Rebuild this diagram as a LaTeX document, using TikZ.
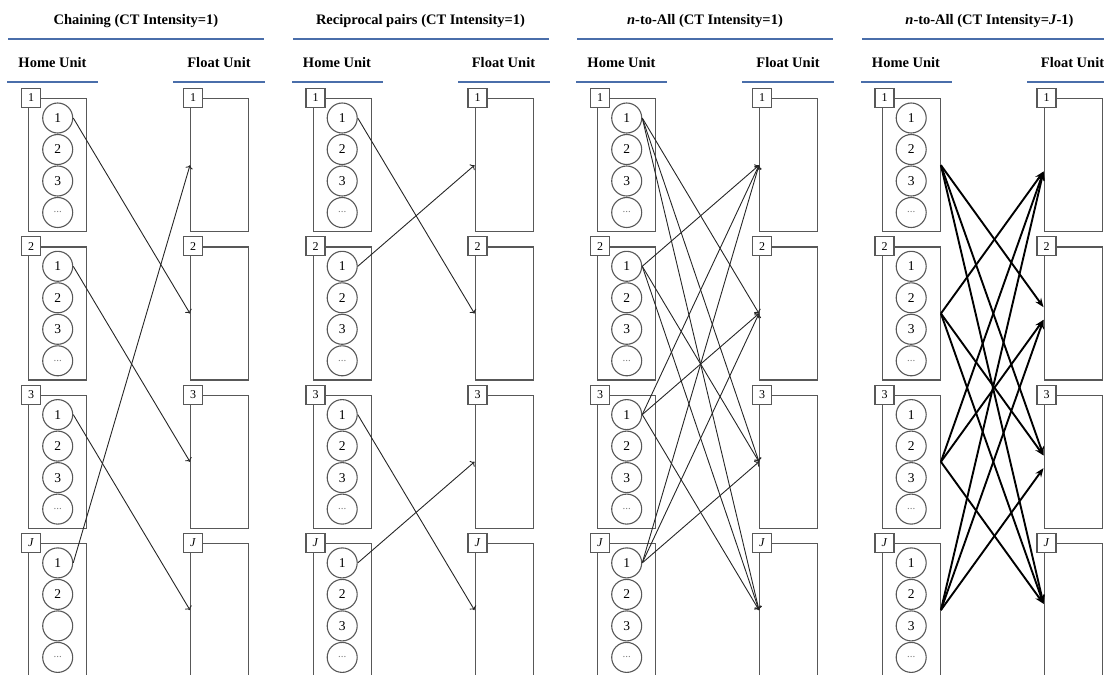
\documentclass[tikz,border=0pt]{standalone}
\usepackage{fontspec}
\setmainfont{Liberation Serif}
\usetikzlibrary{positioning}
\usetikzlibrary{arrows.meta}
\definecolor{rulebl}{RGB}{74,110,170}
\definecolor{boxgr}{RGB}{88,88,88}
\tikzstyle{title} = [font=\bfseries\fontsize{14.5}{17}\selectfont, align=center]
\tikzstyle{rule} = [fill=rulebl, minimum height=2.8pt, inner sep=0pt]
\tikzstyle{unit} = [draw=boxgr, line width=1.4pt, minimum width=58pt, minimum height=133pt, anchor=north west, inner sep=0pt]
\tikzstyle{tag} = [draw=boxgr, fill=white, line width=1.2pt, minimum size=19pt, inner sep=0pt, font=\fontsize{12}{13}\selectfont]
\tikzstyle{worker} = [circle, draw=boxgr, line width=1.1pt, minimum size=30pt, inner sep=0pt, font=\fontsize{13.5}{14}\selectfont]
\tikzstyle{more} = [worker, text=gray, font=\fontsize{11}{12}\selectfont]
\tikzstyle{flow} = [->, line width=0.9pt, black!85]
\tikzstyle{bigflow} = [-{Stealth[length=9pt,width=7pt]}, line width=1.9pt]

\begin{document}
\begin{tikzpicture}
\useasboundingbox (0,0) rectangle (1104pt,-675pt);

% Chaining
\node (chainhome1) at (28pt,-98pt) [unit] {};
\node (chainhome2) at (chainhome1.north west) [yshift=-148.3pt] [unit] {};
\node (chainhome3) at (chainhome2.north west) [yshift=-148.3pt] [unit] {};
\node (chainhomeJ) at (chainhome3.north west) [yshift=-148.3pt] [unit] {};
\node (chaintitle) at (chainhome1.north west) [xshift=108pt, yshift=77pt] [title] {Chaining (CT Intensity=1)};
\node (chaintitlerule) at (chaintitle) [yshift=-18pt] [rule, minimum width=256pt] {};
\node (chainhomehead) at (chainhome1.north west) [xshift=24.5pt, yshift=35pt] [title] {Home Unit};
\node (chainhomerule) at (chainhomehead) [yshift=-19pt] [rule, minimum width=91pt] {};

\node (chainhome1tag) at (chainhome1.north west) [xshift=3pt] [tag] {1};
\node (chainhome1w1) at (chainhome1.north) [yshift=-20pt] [worker] {1};
\node (chainhome1w2) at (chainhome1w1) [yshift=-31.5pt] [worker] {2};
\node (chainhome1w3) at (chainhome1w2) [yshift=-31.5pt] [worker] {3};
\node (chainhome1w4) at (chainhome1w3) [yshift=-31.5pt] [more] {...};
\node (chainhome2tag) at (chainhome2.north west) [xshift=3pt] [tag] {2};
\node (chainhome2w1) at (chainhome2.north) [yshift=-20pt] [worker] {1};
\node (chainhome2w2) at (chainhome2w1) [yshift=-31.5pt] [worker] {2};
\node (chainhome2w3) at (chainhome2w2) [yshift=-31.5pt] [worker] {3};
\node (chainhome2w4) at (chainhome2w3) [yshift=-31.5pt] [more] {...};
\node (chainhome3tag) at (chainhome3.north west) [xshift=3pt] [tag] {3};
\node (chainhome3w1) at (chainhome3.north) [yshift=-20pt] [worker] {1};
\node (chainhome3w2) at (chainhome3w1) [yshift=-31.5pt] [worker] {2};
\node (chainhome3w3) at (chainhome3w2) [yshift=-31.5pt] [worker] {3};
\node (chainhome3w4) at (chainhome3w3) [yshift=-31.5pt] [more] {...};
\node (chainhomeJtag) at (chainhomeJ.north west) [xshift=3pt] [tag] {\textit{J}};
\node (chainhomeJw1) at (chainhomeJ.north) [yshift=-20pt] [worker] {1};
\node (chainhomeJw2) at (chainhomeJw1) [yshift=-31.5pt] [worker] {2};
\node (chainhomeJw3) at (chainhomeJw2) [yshift=-31.5pt] [worker] {};
\node (chainhomeJw4) at (chainhomeJw3) [yshift=-31.5pt] [more] {...};

\node (chainfloat1) at (chainhome1.north west) [xshift=162pt] [unit] {};
\node (chainfloat2) at (chainfloat1.north west) [yshift=-148.3pt] [unit] {};
\node (chainfloat3) at (chainfloat2.north west) [yshift=-148.3pt] [unit] {};
\node (chainfloatJ) at (chainfloat3.north west) [yshift=-148.3pt] [unit] {};
\node (chainfloathead) at (chainfloat1.north west) [xshift=29pt, yshift=35pt] [title] {Float Unit};
\node (chainfloatrule) at (chainfloathead) [yshift=-19pt] [rule, minimum width=92pt] {};
\node (chainfloat1tag) at (chainfloat1.north west) [xshift=3pt] [tag] {1};
\node (chainfloat2tag) at (chainfloat2.north west) [xshift=3pt] [tag] {2};
\node (chainfloat3tag) at (chainfloat3.north west) [xshift=3pt] [tag] {3};
\node (chainfloatJtag) at (chainfloatJ.north west) [xshift=3pt] [tag] {\textit{J}};

% Reciprocal pairs
\node (reciphome1) at (chainhome1.north west) [xshift=284.5pt] [unit] {};
\node (reciphome2) at (reciphome1.north west) [yshift=-148.3pt] [unit] {};
\node (reciphome3) at (reciphome2.north west) [yshift=-148.3pt] [unit] {};
\node (reciphomeJ) at (reciphome3.north west) [yshift=-148.3pt] [unit] {};
\node (reciptitle) at (reciphome1.north west) [xshift=108pt, yshift=77pt] [title] {Reciprocal pairs (CT Intensity=1)};
\node (reciptitlerule) at (reciptitle) [yshift=-18pt] [rule, minimum width=256pt] {};
\node (reciphomehead) at (reciphome1.north west) [xshift=24.5pt, yshift=35pt] [title] {Home Unit};
\node (reciphomerule) at (reciphomehead) [yshift=-19pt] [rule, minimum width=91pt] {};

\node (reciphome1tag) at (reciphome1.north west) [xshift=3pt] [tag] {1};
\node (reciphome1w1) at (reciphome1.north) [yshift=-20pt] [worker] {1};
\node (reciphome1w2) at (reciphome1w1) [yshift=-31.5pt] [worker] {2};
\node (reciphome1w3) at (reciphome1w2) [yshift=-31.5pt] [worker] {3};
\node (reciphome1w4) at (reciphome1w3) [yshift=-31.5pt] [more] {...};
\node (reciphome2tag) at (reciphome2.north west) [xshift=3pt] [tag] {2};
\node (reciphome2w1) at (reciphome2.north) [yshift=-20pt] [worker] {1};
\node (reciphome2w2) at (reciphome2w1) [yshift=-31.5pt] [worker] {2};
\node (reciphome2w3) at (reciphome2w2) [yshift=-31.5pt] [worker] {3};
\node (reciphome2w4) at (reciphome2w3) [yshift=-31.5pt] [more] {...};
\node (reciphome3tag) at (reciphome3.north west) [xshift=3pt] [tag] {3};
\node (reciphome3w1) at (reciphome3.north) [yshift=-20pt] [worker] {1};
\node (reciphome3w2) at (reciphome3w1) [yshift=-31.5pt] [worker] {2};
\node (reciphome3w3) at (reciphome3w2) [yshift=-31.5pt] [worker] {3};
\node (reciphome3w4) at (reciphome3w3) [yshift=-31.5pt] [more] {...};
\node (reciphomeJtag) at (reciphomeJ.north west) [xshift=3pt] [tag] {\textit{J}};
\node (reciphomeJw1) at (reciphomeJ.north) [yshift=-20pt] [worker] {1};
\node (reciphomeJw2) at (reciphomeJw1) [yshift=-31.5pt] [worker] {2};
\node (reciphomeJw3) at (reciphomeJw2) [yshift=-31.5pt] [worker] {3};
\node (reciphomeJw4) at (reciphomeJw3) [yshift=-31.5pt] [more] {...};

\node (recipfloat1) at (reciphome1.north west) [xshift=162pt] [unit] {};
\node (recipfloat2) at (recipfloat1.north west) [yshift=-148.3pt] [unit] {};
\node (recipfloat3) at (recipfloat2.north west) [yshift=-148.3pt] [unit] {};
\node (recipfloatJ) at (recipfloat3.north west) [yshift=-148.3pt] [unit] {};
\node (recipfloathead) at (recipfloat1.north west) [xshift=29pt, yshift=35pt] [title] {Float Unit};
\node (recipfloatrule) at (recipfloathead) [yshift=-19pt] [rule, minimum width=92pt] {};
\node (recipfloat1tag) at (recipfloat1.north west) [xshift=3pt] [tag] {1};
\node (recipfloat2tag) at (recipfloat2.north west) [xshift=3pt] [tag] {2};
\node (recipfloat3tag) at (recipfloat3.north west) [xshift=3pt] [tag] {3};
\node (recipfloatJtag) at (recipfloatJ.north west) [xshift=3pt] [tag] {\textit{J}};

% n-to-All, one worker per unit
\node (ntoallhome1) at (reciphome1.north west) [xshift=284.5pt] [unit] {};
\node (ntoallhome2) at (ntoallhome1.north west) [yshift=-148.3pt] [unit] {};
\node (ntoallhome3) at (ntoallhome2.north west) [yshift=-148.3pt] [unit] {};
\node (ntoallhomeJ) at (ntoallhome3.north west) [yshift=-148.3pt] [unit] {};
\node (ntoalltitle) at (ntoallhome1.north west) [xshift=108pt, yshift=77pt] [title] {\textit{n}-to-All (CT Intensity=1)};
\node (ntoalltitlerule) at (ntoalltitle) [yshift=-18pt] [rule, minimum width=256pt] {};
\node (ntoallhomehead) at (ntoallhome1.north west) [xshift=24.5pt, yshift=35pt] [title] {Home Unit};
\node (ntoallhomerule) at (ntoallhomehead) [yshift=-19pt] [rule, minimum width=91pt] {};

\node (ntoallhome1tag) at (ntoallhome1.north west) [xshift=3pt] [tag] {1};
\node (ntoallhome1w1) at (ntoallhome1.north) [yshift=-20pt] [worker] {1};
\node (ntoallhome1w2) at (ntoallhome1w1) [yshift=-31.5pt] [worker] {2};
\node (ntoallhome1w3) at (ntoallhome1w2) [yshift=-31.5pt] [worker] {3};
\node (ntoallhome1w4) at (ntoallhome1w3) [yshift=-31.5pt] [more] {...};
\node (ntoallhome2tag) at (ntoallhome2.north west) [xshift=3pt] [tag] {2};
\node (ntoallhome2w1) at (ntoallhome2.north) [yshift=-20pt] [worker] {1};
\node (ntoallhome2w2) at (ntoallhome2w1) [yshift=-31.5pt] [worker] {2};
\node (ntoallhome2w3) at (ntoallhome2w2) [yshift=-31.5pt] [worker] {3};
\node (ntoallhome2w4) at (ntoallhome2w3) [yshift=-31.5pt] [more] {...};
\node (ntoallhome3tag) at (ntoallhome3.north west) [xshift=3pt] [tag] {3};
\node (ntoallhome3w1) at (ntoallhome3.north) [yshift=-20pt] [worker] {1};
\node (ntoallhome3w2) at (ntoallhome3w1) [yshift=-31.5pt] [worker] {2};
\node (ntoallhome3w3) at (ntoallhome3w2) [yshift=-31.5pt] [worker] {3};
\node (ntoallhome3w4) at (ntoallhome3w3) [yshift=-31.5pt] [more] {...};
\node (ntoallhomeJtag) at (ntoallhomeJ.north west) [xshift=3pt] [tag] {\textit{J}};
\node (ntoallhomeJw1) at (ntoallhomeJ.north) [yshift=-20pt] [worker] {1};
\node (ntoallhomeJw2) at (ntoallhomeJw1) [yshift=-31.5pt] [worker] {2};
\node (ntoallhomeJw3) at (ntoallhomeJw2) [yshift=-31.5pt] [worker] {3};
\node (ntoallhomeJw4) at (ntoallhomeJw3) [yshift=-31.5pt] [more] {...};

\node (ntoallfloat1) at (ntoallhome1.north west) [xshift=162pt] [unit] {};
\node (ntoallfloat2) at (ntoallfloat1.north west) [yshift=-148.3pt] [unit] {};
\node (ntoallfloat3) at (ntoallfloat2.north west) [yshift=-148.3pt] [unit] {};
\node (ntoallfloatJ) at (ntoallfloat3.north west) [yshift=-148.3pt] [unit] {};
\node (ntoallfloathead) at (ntoallfloat1.north west) [xshift=29pt, yshift=35pt] [title] {Float Unit};
\node (ntoallfloatrule) at (ntoallfloathead) [yshift=-19pt] [rule, minimum width=92pt] {};
\node (ntoallfloat1tag) at (ntoallfloat1.north west) [xshift=3pt] [tag] {1};
\node (ntoallfloat2tag) at (ntoallfloat2.north west) [xshift=3pt] [tag] {2};
\node (ntoallfloat3tag) at (ntoallfloat3.north west) [xshift=3pt] [tag] {3};
\node (ntoallfloatJtag) at (ntoallfloatJ.north west) [xshift=3pt] [tag] {\textit{J}};

% n-to-All, whole unit
\node (ntoalljhome1) at (ntoallhome1.north west) [xshift=284.5pt] [unit] {};
\node (ntoalljhome2) at (ntoalljhome1.north west) [yshift=-148.3pt] [unit] {};
\node (ntoalljhome3) at (ntoalljhome2.north west) [yshift=-148.3pt] [unit] {};
\node (ntoalljhomeJ) at (ntoalljhome3.north west) [yshift=-148.3pt] [unit] {};
\node (ntoalljtitle) at (ntoalljhome1.north west) [xshift=108pt, yshift=77pt] [title] {\textit{n}-to-All (CT Intensity=\textit{J}-1)};
\node (ntoalljtitlerule) at (ntoalljtitle) [yshift=-18pt] [rule, minimum width=256pt] {};
\node (ntoalljhomehead) at (ntoalljhome1.north west) [xshift=24.5pt, yshift=35pt] [title] {Home Unit};
\node (ntoalljhomerule) at (ntoalljhomehead) [yshift=-19pt] [rule, minimum width=91pt] {};

\node (ntoalljhome1tag) at (ntoalljhome1.north west) [xshift=3pt] [tag] {1};
\node (ntoalljhome1w1) at (ntoalljhome1.north) [yshift=-20pt] [worker] {1};
\node (ntoalljhome1w2) at (ntoalljhome1w1) [yshift=-31.5pt] [worker] {2};
\node (ntoalljhome1w3) at (ntoalljhome1w2) [yshift=-31.5pt] [worker] {3};
\node (ntoalljhome1w4) at (ntoalljhome1w3) [yshift=-31.5pt] [more] {...};
\node (ntoalljhome2tag) at (ntoalljhome2.north west) [xshift=3pt] [tag] {2};
\node (ntoalljhome2w1) at (ntoalljhome2.north) [yshift=-20pt] [worker] {1};
\node (ntoalljhome2w2) at (ntoalljhome2w1) [yshift=-31.5pt] [worker] {2};
\node (ntoalljhome2w3) at (ntoalljhome2w2) [yshift=-31.5pt] [worker] {3};
\node (ntoalljhome2w4) at (ntoalljhome2w3) [yshift=-31.5pt] [more] {...};
\node (ntoalljhome3tag) at (ntoalljhome3.north west) [xshift=3pt] [tag] {3};
\node (ntoalljhome3w1) at (ntoalljhome3.north) [yshift=-20pt] [worker] {1};
\node (ntoalljhome3w2) at (ntoalljhome3w1) [yshift=-31.5pt] [worker] {2};
\node (ntoalljhome3w3) at (ntoalljhome3w2) [yshift=-31.5pt] [worker] {3};
\node (ntoalljhome3w4) at (ntoalljhome3w3) [yshift=-31.5pt] [more] {...};
\node (ntoalljhomeJtag) at (ntoalljhomeJ.north west) [xshift=3pt] [tag] {\textit{J}};
\node (ntoalljhomeJw1) at (ntoalljhomeJ.north) [yshift=-20pt] [worker] {1};
\node (ntoalljhomeJw2) at (ntoalljhomeJw1) [yshift=-31.5pt] [worker] {2};
\node (ntoalljhomeJw3) at (ntoalljhomeJw2) [yshift=-31.5pt] [worker] {3};
\node (ntoalljhomeJw4) at (ntoalljhomeJw3) [yshift=-31.5pt] [more] {...};

\node (ntoalljfloat1) at (ntoalljhome1.north west) [xshift=162pt] [unit] {};
\node (ntoalljfloat2) at (ntoalljfloat1.north west) [yshift=-148.3pt] [unit] {};
\node (ntoalljfloat3) at (ntoalljfloat2.north west) [yshift=-148.3pt] [unit] {};
\node (ntoalljfloatJ) at (ntoalljfloat3.north west) [yshift=-148.3pt] [unit] {};
\node (ntoalljfloathead) at (ntoalljfloat1.north west) [xshift=29pt, yshift=35pt] [title] {Float Unit};
\node (ntoalljfloatrule) at (ntoalljfloathead) [yshift=-19pt] [rule, minimum width=92pt] {};
\node (ntoalljfloat1tag) at (ntoalljfloat1.north west) [xshift=3pt] [tag] {1};
\node (ntoalljfloat2tag) at (ntoalljfloat2.north west) [xshift=3pt] [tag] {2};
\node (ntoalljfloat3tag) at (ntoalljfloat3.north west) [xshift=3pt] [tag] {3};
\node (ntoalljfloatJtag) at (ntoalljfloatJ.north west) [xshift=3pt] [tag] {\textit{J}};

% chaining arrows
\draw [flow] (chainhome1w1.east) -- (chainfloat2.west);
\draw [flow] (chainhome2w1.east) -- (chainfloat3.west);
\draw [flow] (chainhome3w1.east) -- (chainfloatJ.west);
\draw [flow] (chainhomeJw1.east) -- (chainfloat1.west);

% reciprocal arrows
\draw [flow] (reciphome1w1.east) -- (recipfloat2.west);
\draw [flow] (reciphome2w1.east) -- (recipfloat1.west);
\draw [flow] (reciphome3w1.east) -- (recipfloatJ.west);
\draw [flow] (reciphomeJw1.east) -- (recipfloat3.west);

% n-to-all arrows
\draw [flow] (ntoallhome1w1.east) -- (ntoallfloat2.west);
\draw [flow] (ntoallhome1w1.east) -- (ntoallfloat3.west);
\draw [flow] (ntoallhome1w1.east) -- (ntoallfloatJ.west);
\draw [flow] (ntoallhome2w1.east) -- (ntoallfloat1.west);
\draw [flow] (ntoallhome2w1.east) -- (ntoallfloat3.west);
\draw [flow] (ntoallhome2w1.east) -- (ntoallfloatJ.west);
\draw [flow] (ntoallhome3w1.east) -- (ntoallfloat1.west);
\draw [flow] (ntoallhome3w1.east) -- (ntoallfloat2.west);
\draw [flow] (ntoallhome3w1.east) -- (ntoallfloatJ.west);
\draw [flow] (ntoallhomeJw1.east) -- (ntoallfloat1.west);
\draw [flow] (ntoallhomeJw1.east) -- (ntoallfloat2.west);
\draw [flow] (ntoallhomeJw1.east) -- (ntoallfloat3.west);

% whole-unit arrows, thick
\draw [bigflow] (ntoalljhome1.east) -- (ntoalljfloat2.168);
\draw [bigflow] (ntoalljhome1.east) -- (ntoalljfloat3.168);
\draw [bigflow] (ntoalljhome1.east) -- (ntoalljfloatJ.168);
\draw [bigflow] (ntoalljhome2.east) -- (ntoalljfloat1.192);
\draw [bigflow] (ntoalljhome2.east) -- (ntoalljfloat3.168);
\draw [bigflow] (ntoalljhome2.east) -- (ntoalljfloatJ.168);
\draw [bigflow] (ntoalljhome3.east) -- (ntoalljfloat1.192);
\draw [bigflow] (ntoalljhome3.east) -- (ntoalljfloat2.192);
\draw [bigflow] (ntoalljhome3.east) -- (ntoalljfloatJ.168);
\draw [bigflow] (ntoalljhomeJ.east) -- (ntoalljfloat1.192);
\draw [bigflow] (ntoalljhomeJ.east) -- (ntoalljfloat2.192);
\draw [bigflow] (ntoalljhomeJ.east) -- (ntoalljfloat3.192);
\end{tikzpicture}
\end{document}
